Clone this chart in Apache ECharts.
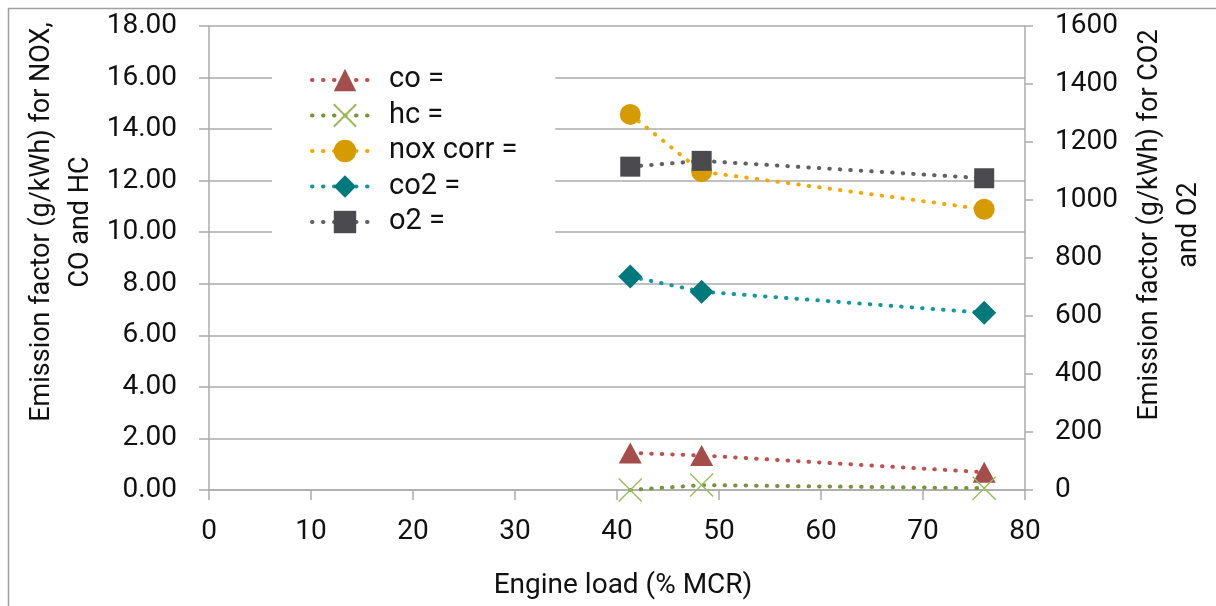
<!DOCTYPE html>
<html>
<head>
<meta charset="utf-8">
<script src="https://cdn.jsdelivr.net/npm/echarts@6/dist/echarts.min.js"></script>
<style>
html,body{margin:0;padding:0;background:#fff;}
#chart{width:1216px;height:606px;}
</style>
</head>
<body>
<div id="chart"></div>
<script>
// Data
var engineLoad = [41.3, 48.3, 76.0];
var coValues = [1.44, 1.34, 0.69];
var hcValues = [0.00, 0.19, 0.07];
var noxCorrValues = [14.57, 12.35, 10.89];
var co2Values = [736, 684, 611];
var o2Values = [1115, 1135, 1075];
var seriesNames = ['co =', 'hc =', 'nox corr =', 'co2 =', 'o2 ='];
var leftTicks = { min: 0, max: 18, interval: 2 };
var rightTicks = { min: 0, max: 1600, interval: 200 };
var xTicks = { min: 0, max: 80, interval: 10 };

function pairs(xs, ys) {
  return xs.map(function (x, i) { return [x, ys[i]]; });
}

var FONT = 'Roboto';
var gridColor = '#ABABAB';
var dotType = [0.5, 10];

function lineSeries(name, values, yIdx, lineColor, markColor, symbol, size, extraItem) {
  var itemStyle = { color: markColor };
  if (extraItem) { for (var k in extraItem) itemStyle[k] = extraItem[k]; }
  return {
    name: name,
    type: 'line',
    yAxisIndex: yIdx,
    data: pairs(engineLoad, values),
    symbol: symbol,
    symbolSize: size,
    showAllSymbol: true,
    lineStyle: { color: lineColor, width: 4, type: dotType, cap: 'round' },
    itemStyle: itemStyle,
    emphasis: { disabled: true },
    animation: false
  };
}

var chart = echarts.init(document.getElementById('chart'), null, { renderer: 'canvas' });
chart.setOption({
  animation: false,
  backgroundColor: '#ffffff',
  grid: { left: 209, right: 191, top: 26, bottom: 116, containLabel: false, outerBoundsMode: 'none' },
  legend: {
    orient: 'vertical',
    left: 272,
    top: 55,
    backgroundColor: '#ffffff',
    padding: [10, 38, 10, 38],
    itemWidth: 66,
    itemHeight: 28,
    itemGap: 5.5,
    data: seriesNames,
    lineStyle: { width: 4, type: [0.5, 10.5], cap: 'round' },
    textStyle: { fontFamily: FONT, fontSize: 29, color: '#111', lineHeight: 30, padding: [0, 0, 0, 6] },
    selectedMode: false
  },
  xAxis: {
    type: 'value',
    min: xTicks.min, max: xTicks.max, interval: xTicks.interval,
    axisLine: { show: true, onZero: false, lineStyle: { color: gridColor, width: 1.5 } },
    axisTick: { show: true, inside: false, length: 10, lineStyle: { color: gridColor, width: 1.5 } },
    splitLine: { show: false },
    axisLabel: { fontFamily: FONT, fontSize: 28, color: '#111', margin: 28 }
  },
  yAxis: [
    {
      type: 'value', position: 'left',
      min: leftTicks.min, max: leftTicks.max, interval: leftTicks.interval,
      axisLine: { show: true, lineStyle: { color: gridColor, width: 1.5 } },
      axisTick: { show: true, inside: false, length: 10, lineStyle: { color: gridColor, width: 1.5 } },
      splitLine: { show: true, lineStyle: { color: gridColor, width: 1.5 } },
      axisLabel: { fontFamily: FONT, fontSize: 28, color: '#111', margin: 32,
        formatter: function (v) { return v.toFixed(2); } }
    },
    {
      type: 'value', position: 'right',
      min: rightTicks.min, max: rightTicks.max, interval: rightTicks.interval,
      axisLine: { show: true, lineStyle: { color: gridColor, width: 1.5 } },
      axisTick: { show: true, inside: false, length: 8, lineStyle: { color: gridColor, width: 1.5 } },
      splitLine: { show: false },
      axisLabel: { fontFamily: FONT, fontSize: 28, color: '#111', margin: 30,
        formatter: function (v) { return String(v); } }
    }
  ],
  series: [
    lineSeries(seriesNames[0], coValues, 0, '#C0504D', '#A34E4A', 'triangle', [23, 21]),
    lineSeries(seriesNames[1], hcValues, 0, '#77933C', 'transparent', 'path://M0,0L20,20M20,0L0,20', 23,
      { borderColor: '#9BBB59', borderWidth: 1.4 }),
    lineSeries(seriesNames[2], noxCorrValues, 0, '#F2A900', '#D69B00', 'circle', 21),
    lineSeries(seriesNames[3], co2Values, 1, '#11999E', '#00797D', 'diamond', [24, 24]),
    lineSeries(seriesNames[4], o2Values, 1, '#606065', '#4A4A4F', 'rect', 20)
  ],
  graphic: [
    { type: 'rect', silent: true, z: -1,
      shape: { x: 8.5, y: 8.5, width: 1400, height: 800 },
      style: { fill: 'none', stroke: '#A0A0A0', lineWidth: 1.5 } },
    { type: 'text', silent: true, x: 623, y: 586,
      style: { text: 'Engine load (% MCR)', fontFamily: FONT, fontSize: 28, fill: '#111',
        align: 'center', verticalAlign: 'middle' } },
    { type: 'text', silent: true, x: 62, y: 222, rotation: Math.PI / 2,
      style: { text: 'Emission factor (g/kWh) for NOX,\nCO and HC', fontFamily: FONT, fontSize: 27,
        lineHeight: 39, fill: '#111', align: 'center', verticalAlign: 'middle' } },
    { type: 'text', silent: true, x: 1170, y: 225, rotation: Math.PI / 2,
      style: { text: 'Emission factor (g/kWh) for CO2\nand O2', fontFamily: FONT, fontSize: 27,
        lineHeight: 39, fill: '#111', align: 'center', verticalAlign: 'middle' } }
  ]
});
</script>
</body>
</html>
